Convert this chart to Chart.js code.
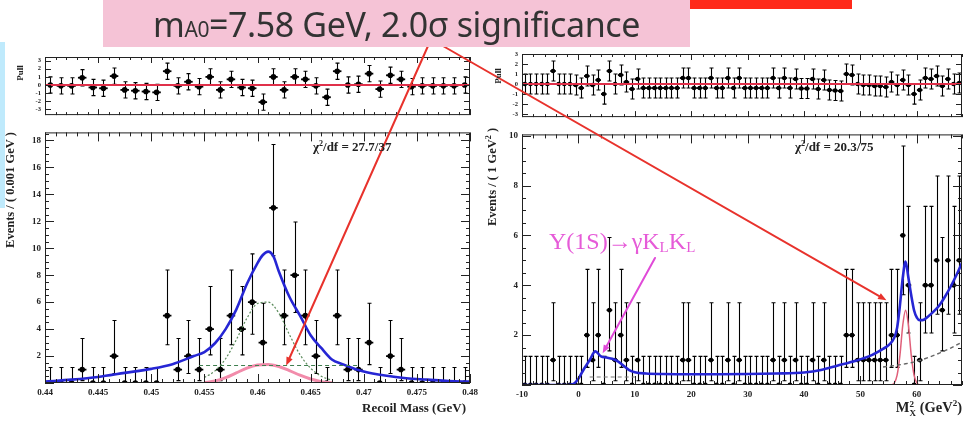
<!DOCTYPE html>
<html><head><meta charset="utf-8">
<script src="https://cdn.jsdelivr.net/npm/chart.js@4.4.1/dist/chart.umd.min.js"></script>
<style>
html,body{margin:0;padding:0;background:#fff;width:967px;height:421px;overflow:hidden;}
body{position:relative;}
canvas{position:absolute;}
.abs{position:absolute;}
.ttl{position:absolute;font-family:'Liberation Serif',serif;font-weight:bold;color:#222;white-space:nowrap;line-height:1;}
.rot{transform:translate(-50%,-50%) rotate(-90deg);}
</style></head><body>
<div class="abs" style="left:0;top:42px;width:5px;height:166px;background:#bfeafc"></div>
<canvas id="cLP"></canvas>
<canvas id="cLM"></canvas>
<canvas id="cRP"></canvas>
<canvas id="cRM"></canvas>
<canvas id="overlay" width="967" height="421" style="left:0;top:0;pointer-events:none"></canvas>
<div class="abs" style="left:103px;top:0;width:587px;height:47px;background:#f5c3d6"></div>
<div class="abs" style="left:690px;top:0;width:162px;height:9px;background:#ff2a1a"></div>
<div class="abs" style="left:103px;top:0;width:587px;height:47px;line-height:48px;text-align:center;font-family:'Noto Sans',sans-serif;font-size:34px;color:#333;white-space:nowrap;letter-spacing:-0.4px">m<span style="font-size:21px">A0</span>=7.58 GeV, 2.0σ significance</div>

<div class="ttl rot" style="left:20px;top:73px;font-size:9px">Pull</div>
<div class="ttl rot" style="left:10px;top:190px;font-size:12.5px">Events / ( 0.001 GeV )</div>
<div class="ttl rot" style="left:498px;top:76px;font-size:9px">Pull</div>
<div class="ttl rot" style="left:492px;top:177px;font-size:12.5px">Events / ( 1 GeV<span style="font-size:8px;vertical-align:5px">2</span> )</div>
<div class="ttl" style="right:501px;top:401px;font-size:13px">Recoil Mass (GeV)</div>
<div class="ttl" style="right:5px;top:399px;font-size:14.5px">M<span style="display:inline-block;vertical-align:-4px;font-size:9px;line-height:9px;text-align:left">2<br>X</span> (GeV<span style="font-size:9px;vertical-align:6px">2</span>)</div>
<div class="ttl" style="left:313px;top:140px;font-size:13px">χ<span style="font-size:8px;vertical-align:5px">2</span>/df = 27.7/37</div>
<div class="ttl" style="left:795px;top:140px;font-size:13px">χ<span style="font-size:8px;vertical-align:5px">2</span>/df = 20.3/75</div>
<div class="abs" style="left:549px;top:229px;font-family:'Liberation Serif',serif;font-size:24px;color:#e65bd8;white-space:nowrap;line-height:1">Υ(1S)→γK<span style="font-size:15px;vertical-align:-3px">L</span>K<span style="font-size:15px;vertical-align:-3px">L</span></div>

<script>
// ---------------- DATA ----------------
const poissonLow  = [0,0.173,0.708,1.367,2.086,2.840,3.620,4.419,5.232,6.057,6.891,7.734,8.585,9.441];
const poissonHigh = [1.148,3.300,4.638,5.918,7.163,8.382,9.584,10.77,11.95,13.11,14.27,15.42,16.56,17.70];

const leftBinCenters = [0.4405,0.4415,0.4425,0.4435,0.4445,0.4455,0.4465,0.4475,0.4485,0.4495,
  0.4505,0.4515,0.4525,0.4535,0.4545,0.4555,0.4565,0.4575,0.4585,0.4595,
  0.4605,0.4615,0.4625,0.4635,0.4645,0.4655,0.4665,0.4675,0.4685,0.4695,
  0.4705,0.4715,0.4725,0.4735,0.4745,0.4755,0.4765,0.4775,0.4785,0.4795];
const leftCounts = [0,0,0,1,0,0,2,0,0,0, 0,5,1,2,1,4,1,5,4,6, 3,13,5,8,5,2,0,5,1,1, 3,0,2,1,0,0,0,0,0,0];
const leftPulls = [0,-0.1,-0.1,0.9,-0.3,-0.4,1.1,-0.6,-0.7,-0.8, -0.9,1.7,-0.1,0.4,-0.2,1.0,-0.6,0.7,-0.3,-0.4,
  -2.1,1.0,-0.6,1.0,0.7,-0.1,-1.5,1.7,0.0,0.1, 1.4,-0.5,1.2,0.7,-0.2,-0.1,-0.1,-0.1,-0.1,0.0];

const leftFitX = [0.440,0.4425,0.445,0.4475,0.450,0.452,0.454,0.455,0.456,0.457,0.458,0.459,0.460,0.4605,0.461,0.4615,0.462,0.463,0.464,0.465,0.466,0.467,0.468,0.469,0.470,0.472,0.474,0.476,0.478,0.480];
const leftFitY = [0.1,0.25,0.45,0.75,1.05,1.4,2.0,2.3,2.95,4.0,5.45,7.35,8.9,9.5,9.75,9.4,8.3,6.4,5.0,3.55,2.6,1.75,1.4,1.1,0.85,0.55,0.35,0.25,0.15,0.1];
const leftPeakX = [0.455,0.456,0.457,0.458,0.459,0.460,0.461,0.462,0.463,0.464,0.465,0.466,0.467];
const leftPeakY = [0.4,0.9,1.8,3.2,4.8,5.9,6.0,5.2,3.6,2.1,1.1,0.5,0.2];
const leftFlatX = [0.4545,0.4695];
const leftFlatY = [1.3,1.3];
const leftSigX = [0.455,0.456,0.457,0.458,0.459,0.460,0.461,0.462,0.463,0.464,0.465,0.466,0.467];
const leftSigY = [0.02,0.15,0.4,0.75,1.1,1.33,1.38,1.22,0.92,0.58,0.3,0.1,0.02];
const leftZeroX = [0.44,0.48];
const zeroY = [0,0];

const rightBinCenters = [-9.5,-8.5,-7.5,-6.5,-5.5,-4.5,-3.5,-2.5,-1.5,-0.5,
  0.5,1.5,2.5,3.5,4.5,5.5,6.5,7.5,8.5,9.5,
  10.5,11.5,12.5,13.5,14.5,15.5,16.5,17.5,18.5,19.5,
  20.5,21.5,22.5,23.5,24.5,25.5,26.5,27.5,28.5,29.5,
  30.5,31.5,32.5,33.5,34.5,35.5,36.5,37.5,38.5,39.5,
  40.5,41.5,42.5,43.5,44.5,45.5,46.5,47.5,48.5,49.5,
  50.5,51.5,52.5,53.5,54.5,55.5,56.5,57.5,58.5,59.5,
  60.5,61.5,62.5,63.5,64.5,65.5,66.5,67.5];
const rightCounts = [0,0,0,0,0,1,0,0,0,0,
  0,2,1,2,0,3,1,2,1,0,
  1,0,0,0,0,0,0,0,1,1,
  0,0,0,1,0,0,1,0,1,0,
  0,0,0,0,1,0,1,0,1,0,
  0,1,0,1,0,0,0,2,2,1,
  1,1,1,1,1,2,2,6,4,0,
  1,4,4,5,3,5,4,5];
const rightPulls = [0,0,0,0,0,1.3,0,0,0,-0.1,
  -0.4,0.8,-0.1,0.4,-1.0,1.3,0.0,0.9,0.2,-0.5,
  0.5,-0.4,-0.4,-0.4,-0.4,-0.4,-0.4,-0.4,0.6,0.6,
  -0.4,-0.4,-0.4,0.6,-0.4,-0.4,0.6,-0.4,0.6,-0.4,
  -0.4,-0.4,-0.4,-0.4,0.6,-0.4,0.6,-0.4,0.5,-0.45,
  -0.45,0.5,-0.5,0.4,-0.6,-0.65,-0.7,1.0,0.9,0.0,
  -0.1,-0.1,-0.2,-0.2,-0.3,0.2,-0.1,0.4,-0.1,-1.0,
  -0.6,0.6,0.5,0.8,-0.2,0.5,0.0,0.1];

const rightFitX = [-10,-2,-1,0,1,2,3,4,5,6,7,8,9,10,12,15,20,25,30,35,40,43,46,49,52,54,55,56,56.5,57,57.5,58,58.5,59,59.5,60,60.5,61,62,63,64,65,66,67,68];
const rightFitY = [0,0,0.03,0.25,0.65,1.0,1.35,1.15,1.1,1.05,0.95,0.77,0.6,0.51,0.46,0.44,0.43,0.43,0.44,0.46,0.5,0.6,0.78,0.96,1.2,1.45,1.6,1.9,2.3,3.2,4.3,4.95,4.3,3.6,3.0,2.7,2.6,2.6,2.75,2.95,3.2,3.55,3.95,4.4,4.9];
const rightSigX = [55.5,56,56.5,57,57.5,58,58.5,59,59.5,60,60.5];
const rightSigY = [0,0.08,0.4,1.2,2.4,3.0,2.4,1.2,0.4,0.08,0];
const rightBkgX = [54,56,58,60,62,64,66,68];
const rightBkgY = [0.72,0.78,0.85,0.95,1.1,1.28,1.48,1.72];
const rightLowX = [2,10];
const rightLowY = [0.32,0.32];
const rightZeroX = [-10,68];

// annotation targets (data coordinates)
const leftArrowTip = {x:0.4627, y:1.3};
const rightArrowTip = {x:54.6, y:3.4};
const kkArrowTip = {x:4.3, y:1.27};

// ---------------- HELPERS ----------------
const zip = (xs, ys) => xs.map((x,i)=>({x, y:ys[i]}));
Chart.defaults.font.family = "'Liberation Serif', serif";
Chart.defaults.font.weight = 'bold';
Chart.defaults.color = '#222';

const rootFrame = {
  id:'rootFrame',
  afterDraw(chart, args, o){
    const ctx = chart.ctx, a = chart.chartArea, xs = chart.scales.x, ys = chart.scales.y;
    ctx.save();
    ctx.strokeStyle = '#222'; ctx.lineWidth = 1;
    ctx.beginPath();
    const ticks = (scale, step, div, from, isX) => {
      const ms = step/div;
      const k0 = Math.ceil((scale.min-from)/ms - 1e-6), k1 = Math.floor((scale.max-from)/ms + 1e-6);
      for (let k=k0; k<=k1; k++){
        const v = from + k*ms;
        const major = (((k%div)+div)%div) === 0;
        const L = major ? o.major : o.minor;
        const p = Math.round(scale.getPixelForValue(v)) + 0.5;
        if (isX){ ctx.moveTo(p,a.bottom); ctx.lineTo(p,a.bottom-L); ctx.moveTo(p,a.top); ctx.lineTo(p,a.top+L); }
        else { ctx.moveTo(a.left,p); ctx.lineTo(a.left+L,p); ctx.moveTo(a.right,p); ctx.lineTo(a.right-L,p); }
      }
    };
    ticks(xs, o.xStep, o.xDiv, o.xFrom, true);
    ticks(ys, o.yStep, o.yDiv, o.yFrom, false);
    ctx.stroke();
    ctx.strokeRect(a.left+0.5, a.top+0.5, a.right-a.left-1, a.bottom-a.top-1);
    ctx.restore();
  }
};

const errBars = {
  id:'errBars',
  beforeDatasetsDraw(chart){
    const ctx = chart.ctx, a = chart.chartArea, xs = chart.scales.x, ys = chart.scales.y;
    ctx.save();
    ctx.beginPath(); ctx.rect(a.left, a.top, a.right-a.left, a.bottom-a.top); ctx.clip();
    chart.data.datasets.forEach(ds => {
      if (!ds.yLow) return;
      ctx.strokeStyle = '#000';
      ds.data.forEach((pt,i) => {
        const px = Math.round(xs.getPixelForValue(pt.x))+0.5, py = ys.getPixelForValue(pt.y);
        const pl = ys.getPixelForValue(ds.yLow[i]), ph = ys.getPixelForValue(ds.yHigh[i]);
        const xl = xs.getPixelForValue(pt.x - ds.halfBin), xr = xs.getPixelForValue(pt.x + ds.halfBin);
        ctx.lineWidth = ds.vWidth;
        ctx.beginPath();
        ctx.moveTo(px,pl); ctx.lineTo(px,ph);
        ctx.moveTo(px-ds.cap,ph); ctx.lineTo(px+ds.cap,ph);
        ctx.moveTo(px-ds.cap,pl); ctx.lineTo(px+ds.cap,pl);
        ctx.stroke();
        ctx.lineWidth = ds.hWidth;
        ctx.beginPath(); ctx.moveTo(xl,py); ctx.lineTo(xr,py); ctx.stroke();
      });
    });
    ctx.restore();
  }
};

function makeChart(id, box, area, axisW, axisH, datasets, scales, frameOpts){
  const cv = document.getElementById(id);
  cv.width = box.w; cv.height = box.h;
  cv.style.left = box.x + 'px'; cv.style.top = box.y + 'px';
  scales.x.afterFit = s => { s.height = axisH; };
  scales.y.afterFit = s => { s.width = axisW; };
  return new Chart(cv, {
    type:'scatter',
    data:{datasets},
    options:{
      responsive:false, animation:false, events:[],
      layout:{padding:{left: area.l-box.x-axisW, right: box.x+box.w-area.r, top: area.t-box.y, bottom: box.y+box.h-area.b-axisH}},
      plugins:{legend:{display:false}, tooltip:{enabled:false}, rootFrame: frameOpts},
      scales
    },
    plugins:[rootFrame, errBars]
  });
}

const curve = (xs, ys, color, width, dash, extra) => Object.assign({
  data: zip(xs, ys), showLine:true, pointRadius:0, borderColor:color, borderWidth:width,
  borderDash: dash || [], cubicInterpolationMode:'monotone', order:1
}, extra||{});

const pointsDs = (xs, ys, lo, hi, halfBin, r) => ({
  data: zip(xs, ys), showLine:false, pointRadius:r, pointBackgroundColor:'#000', pointBorderColor:'#000',
  pointBorderWidth:0, order:10, yLow: lo, yHigh: hi, halfBin, cap:2, vWidth:1.1, hWidth:1.8
});

const tickFont = {size:9, weight:'bold', family:"'Liberation Serif', serif"};
const pullFont = {size:6.5, weight:'bold', family:"'Liberation Serif', serif"};
const noGrid = {display:false, drawTicks:false, tickLength:0};
const noBorder = {display:false};

// ---------------- LEFT PULL ----------------
const cLP = makeChart('cLP', {x:0,y:48,w:492,h:75}, {l:45,r:470,t:57,b:123}, 45, 0, [
  curve(leftZeroX, zeroY, '#e0304a', 2, null, {order:5}),
  pointsDs(leftBinCenters, leftPulls, leftPulls.map(p=>p-1), leftPulls.map(p=>p+1), 0.0004, 2.8)
], {
  x:{type:'linear', min:0.44, max:0.48, grid:noGrid, border:noBorder, ticks:{display:false}},
  y:{type:'linear', min:-3.7, max:3.45, grid:noGrid, border:noBorder,
     ticks:{stepSize:1, includeBounds:false, autoSkip:false, font:pullFont, padding:4}}
}, {xStep:0.005, xDiv:5, xFrom:0.44, yStep:1, yDiv:1, yFrom:0, major:6, minor:3});

// ---------------- LEFT MAIN ----------------
const cLM = makeChart('cLM', {x:0,y:123,w:492,h:298}, {l:45,r:470,t:123,b:383}, 45, 38, [
  pointsDs(leftBinCenters, leftCounts, leftCounts.map(n=>poissonLow[n]), leftCounts.map(n=>poissonHigh[n]), 0.0004, 2.8),
  curve(leftPeakX, leftPeakY, '#5a8a5a', 1.2, [2,2]),
  curve(leftFlatX, leftFlatY, '#3f7f4f', 1.2, [4,3]),
  curve(leftSigX, leftSigY, '#f28cab', 3),
  curve(leftFitX, leftFitY, '#2626d4', 2.6)
], {
  x:{type:'linear', min:0.44, max:0.48, grid:noGrid, border:noBorder,
     ticks:{stepSize:0.005, includeBounds:false, autoSkip:false, maxRotation:0, font:tickFont, padding:4,
       callback:v => String(Math.round(v*1000)/1000)}},
  y:{type:'linear', min:0, max:18.6, grid:noGrid, border:noBorder,
     ticks:{stepSize:2, includeBounds:false, autoSkip:false, font:tickFont, padding:4,
       callback:v => v===0 ? '' : String(v)}}
}, {xStep:0.005, xDiv:5, xFrom:0.44, yStep:2, yDiv:4, yFrom:0, major:9, minor:4});

// ---------------- RIGHT PULL ----------------
const cRP = makeChart('cRP', {x:478,y:46,w:489,h:79}, {l:522,r:962,t:54,b:125}, 44, 0, [
  curve(rightZeroX, zeroY, '#e0304a', 2, null, {order:5}),
  pointsDs(rightBinCenters, rightPulls, rightPulls.map(p=>p-1), rightPulls.map(p=>p+1), 0.5, 2.3)
], {
  x:{type:'linear', min:-10, max:68, grid:noGrid, border:noBorder, ticks:{display:false}},
  y:{type:'linear', min:-3.3, max:3.0, grid:noGrid, border:noBorder,
     ticks:{stepSize:1, includeBounds:false, autoSkip:false, font:pullFont, padding:4}}
}, {xStep:10, xDiv:5, xFrom:0, yStep:1, yDiv:1, yFrom:0, major:6, minor:3});

// ---------------- RIGHT MAIN ----------------
const cRM = makeChart('cRM', {x:478,y:125,w:489,h:296}, {l:522,r:962,t:125,b:385}, 44, 36, [
  pointsDs(rightBinCenters, rightCounts, rightCounts.map(n=>poissonLow[n]), rightCounts.map(n=>poissonHigh[n]), 0.5, 2.4),
  curve(rightLowX, rightLowY, '#777777', 1.2, [4,3]),
  curve(rightBkgX, rightBkgY, '#666666', 1.4, [4,3]),
  curve(rightSigX, rightSigY, '#e0607a', 1.5),
  curve(rightFitX, rightFitY, '#2626d4', 2.6)
], {
  x:{type:'linear', min:-10, max:68, grid:noGrid, border:noBorder,
     ticks:{stepSize:10, includeBounds:false, autoSkip:false, maxRotation:0, font:tickFont, padding:4}},
  y:{type:'linear', min:0, max:10.05, grid:noGrid, border:noBorder,
     ticks:{stepSize:2, includeBounds:false, autoSkip:false, font:tickFont, padding:4,
       callback:v => v===0 ? '' : String(v)}}
}, {xStep:10, xDiv:5, xFrom:0, yStep:2, yDiv:4, yFrom:0, major:9, minor:4});

// ---------------- OVERLAY ARROWS ----------------
function arrow(ctx, x0, y0, x1, y1, color, w, head){
  const ang = Math.atan2(y1-y0, x1-x0);
  ctx.strokeStyle = color; ctx.fillStyle = color; ctx.lineWidth = w; ctx.lineCap = 'round';
  ctx.beginPath(); ctx.moveTo(x0,y0);
  ctx.lineTo(x1 - head*0.7*Math.cos(ang), y1 - head*0.7*Math.sin(ang)); ctx.stroke();
  ctx.beginPath(); ctx.moveTo(x1,y1);
  ctx.lineTo(x1 - head*Math.cos(ang-0.38), y1 - head*Math.sin(ang-0.38));
  ctx.lineTo(x1 - head*Math.cos(ang+0.38), y1 - head*Math.sin(ang+0.38));
  ctx.closePath(); ctx.fill();
}
const toPage = (chart, off, p) => ({
  x: off.x + chart.scales.x.getPixelForValue(p.x),
  y: off.y + chart.scales.y.getPixelForValue(p.y)
});
const ov = document.getElementById('overlay').getContext('2d');
const t1 = toPage(cLM, {x:0,y:123}, leftArrowTip);
const t2 = toPage(cRM, {x:478,y:125}, rightArrowTip);
const t3 = toPage(cRM, {x:478,y:125}, kkArrowTip);
arrow(ov, 428, 46, t1.x, t1.y, '#e8322c', 2, 9);
arrow(ov, 443, 46, t2.x, t2.y, '#e8322c', 2, 9);
arrow(ov, 655, 258, t3.x, t3.y, '#e04ad8', 2, 9);
</script>
</body></html>
